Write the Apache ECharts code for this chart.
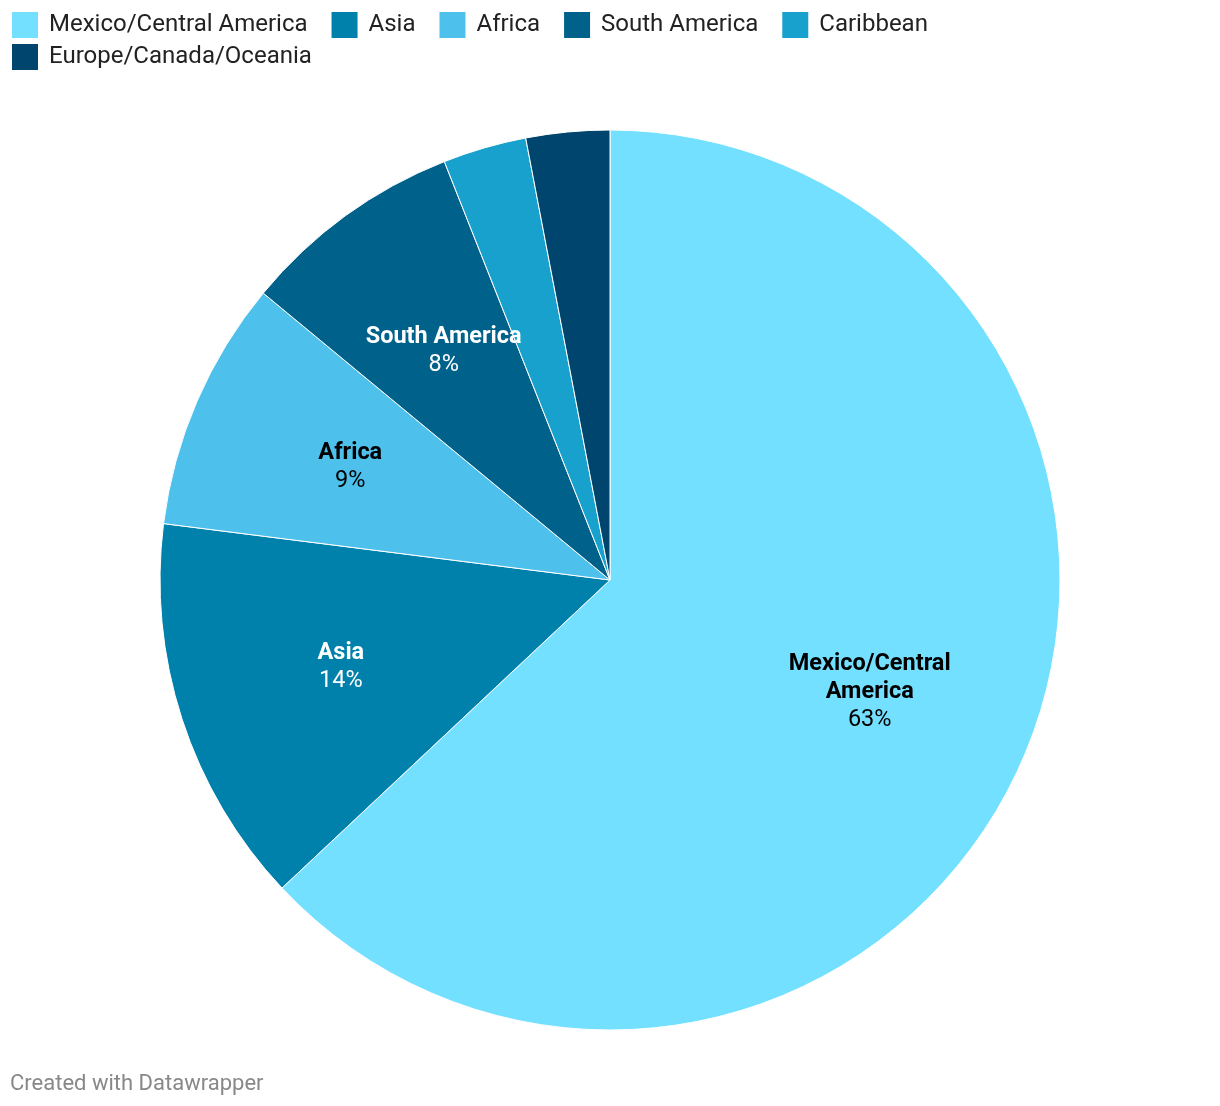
<!DOCTYPE html>
<html>
<head>
<meta charset="utf-8">
<script src="https://cdn.jsdelivr.net/npm/echarts@6/dist/echarts.min.js"></script>
<style>
html,body{margin:0;padding:0;background:#fff;}
#chart{width:1220px;height:1106px;}
</style>
</head>
<body>
<div id="chart"></div>
<script>
const categories = ["Mexico/Central America", "Asia", "Africa", "South America", "Caribbean", "Europe/Canada/Oceania"];
const shares = [63, 14, 9, 8, 3, 3];
const colors = ["#74e0ff", "#0081ab", "#4dc1ec", "#00628b", "#18a1cd", "#00456e"];
const labelColors = ["#000000", "#ffffff", "#000000", "#ffffff", "#ffffff", "#ffffff"];
const showLabel = [true, true, true, true, false, false];

const FONT = "Roboto";
const chart = echarts.init(document.getElementById('chart'), null, {renderer: 'canvas'});

function wrapName(n) {
  if (n.length > 16) {
    const i = n.lastIndexOf(' ');
    return n.slice(0, i) + '\n' + n.slice(i + 1);
  }
  return n;
}

const mainData = categories.map((c, i) => ({
  name: c, value: shares[i], itemStyle: {color: colors[i]}
}));
const labelData = categories.map((c, i) => ({
  name: c, value: shares[i],
  itemStyle: {color: 'rgba(0,0,0,0)', borderWidth: 0},
  label: {
    show: showLabel[i],
    formatter: () => wrapName(c).split('\n').map(s => '{b|' + s + '}').join('\n') + '\n{p|' + shares[i] + '%}',
    rich: {
      b: {fontFamily: FONT, fontSize: 23.5, fontWeight: 'bold', color: labelColors[i], lineHeight: 28, align: 'center'},
      p: {fontFamily: FONT, fontSize: 23.5, fontWeight: 'normal', color: labelColors[i], lineHeight: 28, align: 'center'}
    }
  }
}));

const legendText = {fontFamily: FONT, fontSize: 24, color: '#222', padding: [0, 0, 0, 5]};

chart.setOption({
  backgroundColor: '#ffffff',
  animation: false,
  title: {
    text: 'Created with Datawrapper',
    left: 5, top: 1068,
    textStyle: {fontFamily: FONT, fontSize: 22, fontWeight: 'normal', color: '#888888'}
  },
  legend: [
    {
      data: categories.slice(0, 5),
      left: 10, top: 10, padding: 0,
      orient: 'horizontal',
      icon: 'rect', itemWidth: 28, itemHeight: 28, itemGap: 22,
      selectedMode: false,
      textStyle: legendText
    },
    {
      data: categories.slice(5),
      left: 10, top: 42, padding: 0,
      orient: 'horizontal',
      icon: 'rect', itemWidth: 28, itemHeight: 28, itemGap: 22,
      selectedMode: false,
      textStyle: legendText
    }
  ],
  series: [
    {
      type: 'pie',
      center: [610, 580],
      radius: [0, 450],
      startAngle: 90,
      clockwise: true,
      label: {show: false},
      labelLine: {show: false},
      itemStyle: {borderColor: '#ffffff', borderWidth: 1},
      emphasis: {disabled: true},
      data: mainData
    },
    {
      type: 'pie',
      center: [610, 580],
      radius: [110, 450],
      startAngle: 90,
      clockwise: true,
      silent: true,
      legendHoverLink: false,
      label: {show: true, position: 'inside'},
      labelLine: {show: false},
      emphasis: {disabled: true},
      data: labelData
    }
  ]
});
</script>
</body>
</html>
